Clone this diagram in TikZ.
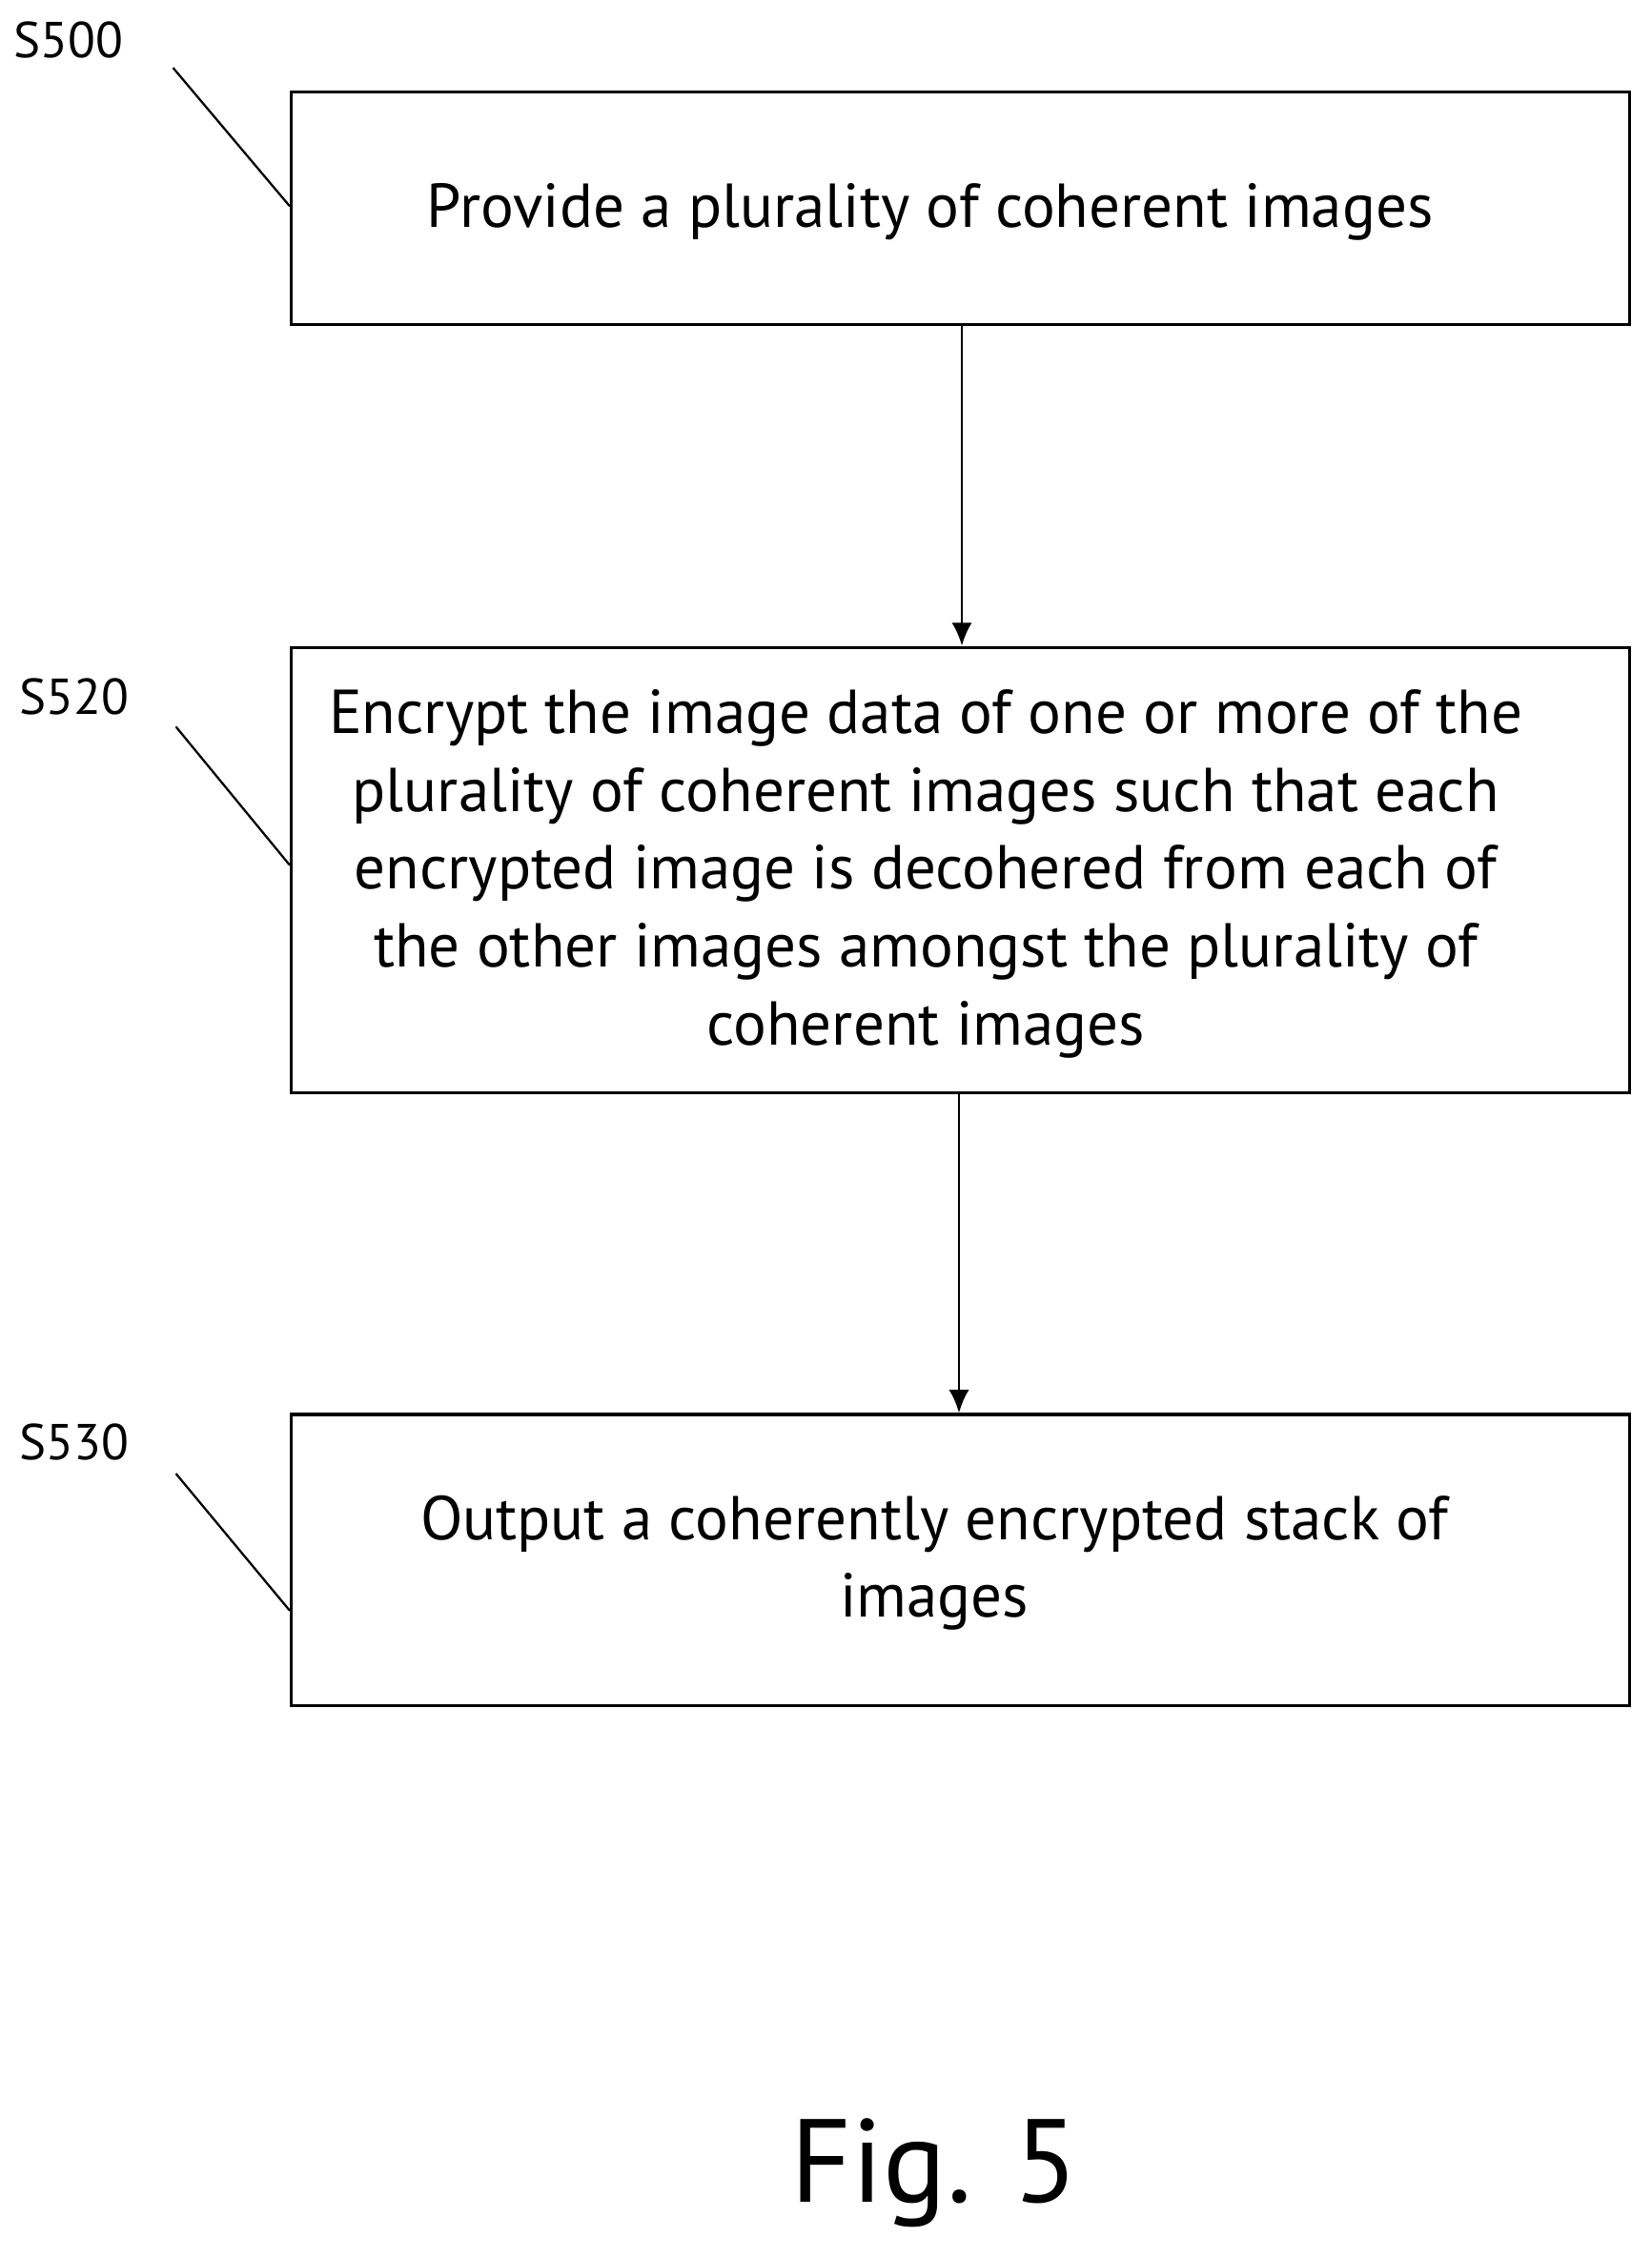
\documentclass[tikz,border=0pt]{standalone}
\usepackage{fontspec}
\setmainfont{PT Sans}
\usetikzlibrary{arrows.meta}
\begin{document}
\begin{tikzpicture}[x=1pt,y=-1pt,
  box/.style={draw,line width=2.2pt,inner sep=0pt},
  txt/.style={align=center,inner sep=0pt,font=\fontsize{43}{54}\selectfont},
  lab/.style={font=\fontsize{35}{38}\selectfont,anchor=west},
  arr/.style={line width=1.8pt,-{Latex[length=16pt,width=14pt]}}]
\useasboundingbox (0,0) rectangle (1145,1566);
\node[box,minimum width=928pt,minimum height=161pt] (b1) at (666,144.5) {};
\node[box,minimum width=928pt,minimum height=309pt] (b2) at (666,603.5) {};
\node[box,minimum width=928pt,minimum height=202pt] (b3) at (666,1082) {};
\node[txt] (t1) at (645,147) {Provide a plurality of coherent images};
\node[txt] (t2) at (642,606) {Encrypt the image data of one or more of the\\plurality of coherent images such that each\\encrypted image is decohered from each of\\the other images amongst the plurality of\\coherent images};
\node[txt] (t3) at (648,1084) {Output a coherently encrypted stack of\\images};
\draw[arr] (b1.south -| 667,0) -- (b2.north -| 667,0);
\draw[arr] (b2.south -| 665,0) -- (b3.north -| 665,0);
\node[lab] (l1) at (6,28) {S500};
\node[lab] (l2) at (10,483) {S520};
\node[lab] (l3) at (10,1000) {S530};
\coordinate (c1) at (120,47); \coordinate (c2) at (122,504); \coordinate (c3) at (122,1022);
\draw[line width=1.5pt] (c1) -- (b1.west |- 0,143);
\draw[line width=1.5pt] (c2) -- (b2.west |- 0,600);
\draw[line width=1.5pt] (c3) -- (b3.west |- 0,1117);
\node[font=\fontsize{82}{90}\selectfont] (fig) at (648,1507) {Fig. 5};
\end{tikzpicture}
\end{document}
